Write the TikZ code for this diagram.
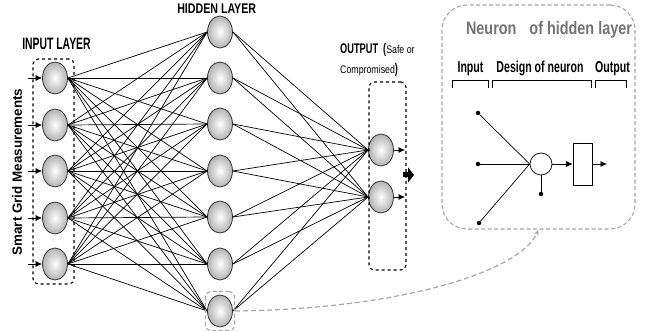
\documentclass[tikz,border=0pt]{standalone}
\usepackage{fontspec}
\setmainfont{Liberation Sans}
\newfontfamily\narrowIn[FakeStretch=0.63]{Liberation Sans}
\newfontfamily\narrowHid[FakeStretch=0.76]{Liberation Sans}
\newfontfamily\narrowSub[FakeStretch=0.67]{Liberation Sans}
\newfontfamily\narrowB[FakeStretch=0.80]{Liberation Sans}
\newfontfamily\narrowC[FakeStretch=0.66]{Liberation Sans}
\usetikzlibrary{shapes.geometric,arrows.meta}
\tikzset{
  neuron/.style={ellipse, draw=black!80, line width=0.8pt, minimum width=25pt, minimum height=32pt, inner sep=0pt, inner color=white, outer color=black!30},
  conn/.style={line width=0.7pt, black},
  inarrow/.style={line width=0.7pt, -{Latex[length=6.5pt,width=6pt]}},
  layerbox/.style={draw, dashed, line width=1.1pt, rounded corners=5pt, inner sep=0pt},
  graybox/.style={draw=black!35, dash pattern=on 4pt off 2.5pt, line width=1.1pt, inner sep=0pt},
  sub/.style={font=\narrowSub\bfseries\fontsize{15.8}{17}\selectfont, inner sep=0pt, anchor=base},
  dot/.style={circle, fill=black, inner sep=0pt, minimum size=4.5pt},
  bracket/.style={line width=0.7pt},
}
\begin{document}
\begin{tikzpicture}[x=1pt,y=-1pt]
\useasboundingbox (0,0) rectangle (648,331);
% input layer
\foreach \i/\y in {1/78,2/125,3/171,4/218,5/264}{
  \node[neuron] (i\i) at (55,\y) {};
  \coordinate (ia\i) at (28,\y);
}
\foreach \i/\y in {1/32,2/78,3/124,4/171,5/217,6/264,7/311}{
  \node[neuron] (h\i) at (220,\y) {};
}
\node[neuron] (o1) at (381,150) {};
\node[neuron] (o2) at (381,197) {};
% connections
\foreach \a in {1,...,5}{\foreach \b in {1,...,7}{\draw[conn] (i\a.east) -- (h\b.west);}}
\foreach \a in {1,...,7}{\foreach \b in {1,2}{\draw[conn] (h\a.east) -- (o\b.west);}}
\foreach \i in {1,...,5}{\draw[inarrow] (ia\i) -- (i\i.west);}
% boxes
\node[layerbox, minimum width=41pt, minimum height=225pt] (ibox) at (53.5,171.5) {};
\node[layerbox, minimum width=37pt, minimum height=188pt] (obox) at (387.5,176) {};
\node[graybox, rounded corners=5pt, minimum width=29pt, minimum height=39pt] (hbox) at (220,311) {};
% output arrows
\coordinate (oa1) at (405,150);
\coordinate (oa2) at (405,197);
\draw[inarrow] (o1.east) -- (oa1);
\draw[inarrow] (o2.east) -- (oa2);
\coordinate (ba1) at (403,175);
\coordinate (ba2) at (414,175);
\draw[line width=5pt, -{Triangle[length=6pt,width=15pt]}] (ba1) -- (ba2);
% labels
\node[inner sep=0pt, anchor=base, font=\narrowIn\bfseries\fontsize{16.5}{18}\selectfont] (tin) at (56.5,49.3) {INPUT LAYER};
\node[inner sep=0pt, anchor=base, font=\narrowHid\bfseries\fontsize{14}{16}\selectfont] (thid) at (216.7,14) {HIDDEN LAYER};
\node[inner sep=0pt, anchor=base west] (tout) at (340,54) {\narrowC\bfseries\fontsize{14}{16}\selectfont OUTPUT\hspace{5pt}(\narrowB\mdseries\fontsize{11}{13}\selectfont Safe or};
\node[inner sep=0pt, anchor=base west] (tout2) at (340,74) {\narrowB\fontsize{11}{13}\selectfont Compromised\narrowC\bfseries\fontsize{14}{16}\selectfont)};
\node[inner sep=0pt, rotate=90, font=\bfseries\fontsize{13.4}{15}\selectfont] (tsm) at (17,172) {Smart Grid Measurements};
% panel
\node[graybox, rounded corners=25pt, minimum width=193pt, minimum height=224pt] (panel) at (538.5,117) {};
\node[inner sep=0pt, text=black!55, font=\narrowB\bfseries\fontsize{18}{20}\selectfont] (tneu) at (549,30) {Neuron\hspace{13pt}of hidden layer};
\node[sub] (tinp) at (470.5,72.3) {Input};
\node[sub] (tdes) at (540,72.3) {Design of neuron};
\node[sub] (toutp) at (612.5,72.3) {Output};
\draw[bracket] (452,88) -- (452,80) -- (488,80) -- (488,88);
\draw[bracket] (492,88) -- (492,80) -- (591.5,80) -- (591.5,88);
\draw[bracket] (595,88) -- (595,80) -- (626.5,80) -- (626.5,88);
\node[circle, draw, line width=0.7pt, minimum size=22pt, inner sep=0pt] (c) at (541,164) {};
\node[dot] (d1) at (478,113) {};
\node[dot] (d2) at (478,164) {};
\node[dot] (d3) at (479,223) {};
\node[dot] (d4) at (541,194) {};
\draw[line width=0.7pt] (d1) -- (c.west);
\draw[line width=0.7pt] (d2) -- (c.west);
\draw[line width=0.7pt] (d3) -- (c.west);
\draw[line width=0.7pt] (d4) -- (c.south);
\node[draw, line width=0.7pt, minimum width=19pt, minimum height=42pt, inner sep=0pt] (r) at (582.5,164) {};
\coordinate (rout) at (607,164);
\draw[inarrow] (c.east) -- (r.west);
\draw[inarrow] (r.east) -- (rout);
% link curve
\draw[draw=black!35, dash pattern=on 5pt off 3pt, line width=1.2pt, -{Stealth[length=6pt]}] (hbox.east) .. controls (400,309) and (520,272) .. (panel.south);
\end{tikzpicture}
\end{document}
